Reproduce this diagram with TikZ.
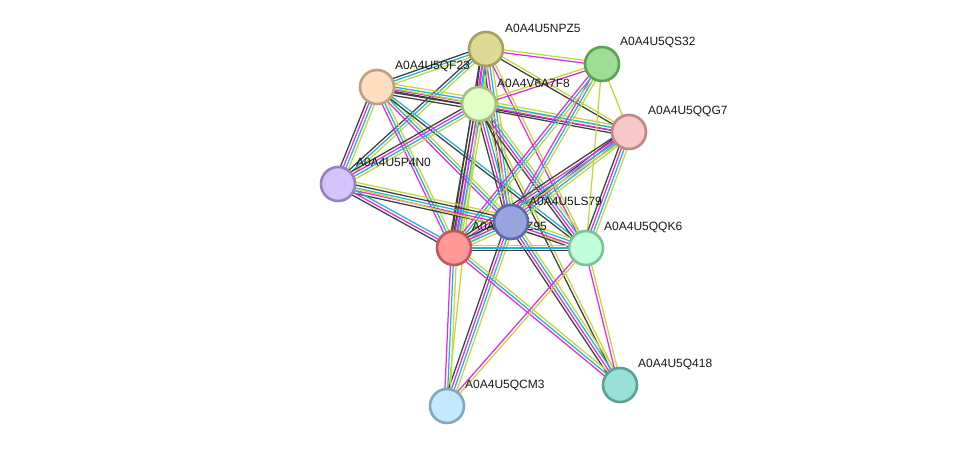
\documentclass[tikz,border=0pt]{standalone}
\usepackage{fontspec}
\setmainfont{Liberation Sans}
\usetikzlibrary{calc}
\pgfdeclarelayer{edges}
\pgfdeclarelayer{fg}
\pgfsetlayers{edges,main,fg}
\definecolor{cK}{RGB}{62,62,62}
\definecolor{cM}{RGB}{222,44,222}
\definecolor{cC}{RGB}{34,178,214}
\definecolor{cY}{RGB}{196,214,58}
\tikzset{
  prot/.style={circle, minimum size=34pt, inner sep=0pt, line width=2.6pt},
  lab/.style={anchor=west, font=\fontsize{12}{14}\selectfont, inner sep=0pt, text=black!90},
  ln/.style={line width=1.25pt}
}
\newcommand\edg[3]{%
  \gdef\nn{0}%
  \foreach \c in {#3}{\xdef\nn{\the\numexpr\nn+1\relax}}%
  \foreach \c [count=\i] in {#3}{%
    \pgfmathsetmacro\off{(\i-(\nn+1)/2)*2.8}%
    \draw[ln,\c] ($(#1)!\off pt!90:(#2)$) -- ($(#2)!\off pt!-90:(#1)$);
  }}
\begin{document}
\begin{tikzpicture}[x=1pt,y=-1pt]
\useasboundingbox (0,0) rectangle (975,452);
\begin{pgfonlayer}{fg}
\node[prot, fill={rgb,255:red,222;green,218;blue,150}, draw={rgb,255:red,166;green,160;blue,96}] (npz) at (486,49) {};
\node[prot, fill={rgb,255:red,158;green,222;blue,148}, draw={rgb,255:red,92;green,160;blue,84}] (qs32) at (602,64) {};
\node[prot, fill={rgb,255:red,255;green,222;blue,192}, draw={rgb,255:red,192;green,160;blue,128}] (qf23) at (377,87) {};
\node[prot, fill={rgb,255:red,226;green,255;blue,200}, draw={rgb,255:red,166;green,190;blue,128}] (v6a) at (479,104) {};
\node[prot, fill={rgb,255:red,248;green,200;blue,200}, draw={rgb,255:red,190;green,136;blue,136}] (qqg7) at (629,132) {};
\node[prot, fill={rgb,255:red,212;green,196;blue,252}, draw={rgb,255:red,152;green,128;blue,200}] (p4n0) at (338,184) {};
\node[prot, fill={rgb,255:red,255;green,152;blue,152}, draw={rgb,255:red,192;green,88;blue,88}] (z95) at (454,248) {};
\node[prot, fill={rgb,255:red,152;green,164;blue,222}, draw={rgb,255:red,92;green,104;blue,168}] (ls79) at (511,222) {};
\node[prot, fill={rgb,255:red,192;green,255;blue,216}, draw={rgb,255:red,128;green,192;blue,152}] (qqk6) at (586,248) {};
\node[prot, fill={rgb,255:red,152;green,224;blue,216}, draw={rgb,255:red,88;green,160;blue,152}] (q418) at (620,385) {};
\node[prot, fill={rgb,255:red,196;green,232;blue,255}, draw={rgb,255:red,128;green,168;blue,192}] (qcm3) at (447,406) {};
\end{pgfonlayer}
\node[lab] (lnpz) at (505,28) {A0A4U5NPZ5};
\node[lab] (lqs32) at (620,42) {A0A4U5QS32};
\node[lab] (lqf23) at (395,66) {A0A4U5QF23};
\node[lab] (lv6a) at (497,83) {A0A4V6A7F8};
\node[lab] (lqqg7) at (648,111) {A0A4U5QQG7};
\node[lab] (lp4n0) at (356,162) {A0A4U5P4N0};
\node[lab] (lz95) at (472,227) {A0A4U5QZ95};
\node[lab] (lls79) at (529,201) {A0A4U5LS79};
\node[lab] (lqqk6) at (604,227) {A0A4U5QQK6};
\node[lab] (lq418) at (638,364) {A0A4U5Q418};
\node[lab] (lqcm3) at (465,385) {A0A4U5QCM3};
\begin{pgfonlayer}{edges}
\fill[white] (0,0) rectangle (975,452);
\edg{npz}{qs32}{cM,cY}
\edg{npz}{qf23}{cK,cC,cY}
\edg{npz}{v6a}{cK,cM,cC,cY}
\edg{npz}{qqg7}{cK,cY}
\edg{npz}{p4n0}{cK,cC,cY}
\edg{npz}{ls79}{cK,cM,cC,cY}
\edg{npz}{z95}{cK,cM,cC,cY}
\edg{npz}{qqk6}{cM,cY}
\edg{qf23}{v6a}{cK,cK,cM,cC,cY}
\edg{qf23}{qqg7}{cK,cY}
\edg{qf23}{p4n0}{cK,cM,cC,cY}
\edg{qf23}{ls79}{cM,cC,cY}
\edg{qf23}{z95}{cM,cC,cY}
\edg{qf23}{qqk6}{cK,cC}
\edg{v6a}{qs32}{cM,cY}
\edg{v6a}{qqg7}{cK,cM,cC,cY}
\edg{v6a}{p4n0}{cK,cM,cC,cY}
\edg{v6a}{ls79}{cK,cM,cC,cY}
\edg{v6a}{z95}{cK,cK,cM,cC,cY}
\edg{v6a}{qqk6}{cK,cM,cC,cY}
\edg{v6a}{q418}{cK,cY}
\edg{v6a}{qcm3}{cY}
\edg{qs32}{qqg7}{cY}
\edg{qs32}{ls79}{cM,cC,cY}
\edg{qs32}{z95}{cM,cC,cY}
\edg{qs32}{qqk6}{cY}
\edg{qqg7}{ls79}{cK,cM,cC,cY}
\edg{qqg7}{z95}{cK,cM,cC,cY}
\edg{qqg7}{qqk6}{cK,cM,cC,cY}
\edg{p4n0}{ls79}{cK,cM,cC,cK,cY}
\edg{p4n0}{z95}{cK,cM,cC}
\edg{p4n0}{qqk6}{cY}
\edg{ls79}{z95}{cK,cM,cC,cY}
\edg{ls79}{qqk6}{cK,cM,cC,cY}
\edg{ls79}{qcm3}{cK,cM,cC,cY}
\edg{ls79}{q418}{cK,cM,cC,cY}
\edg{z95}{qqk6}{cK,cC,cY}
\edg{z95}{qcm3}{cM,cC,cY}
\edg{z95}{q418}{cM,cC,cY}
\edg{qqk6}{qcm3}{cM,cY}
\edg{qqk6}{q418}{cM,cY}
\end{pgfonlayer}
\end{tikzpicture}
\end{document}
